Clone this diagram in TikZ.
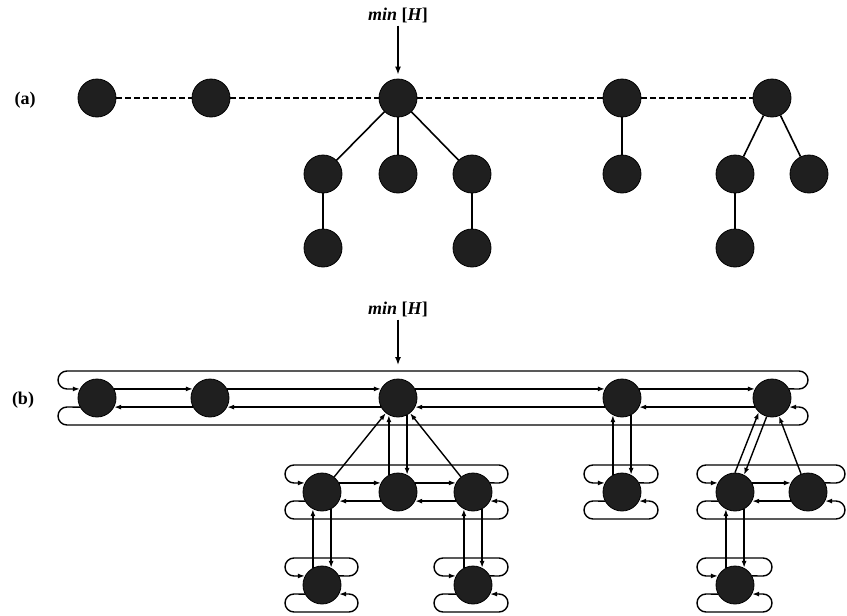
\documentclass[tikz,border=0pt]{standalone}
\usepackage{fontspec}
\setmainfont{Liberation Serif}
\usetikzlibrary{arrows.meta}
\newcommand\fhring[5]{% #1 first node, #2 last node, #3 left x, #4 right x, #5 row y
  \draw[ptr] (#2.28) -- (#4,#5-9) arc[start angle=-90,end angle=90,radius=9pt]
    -- (#3,#5-27) arc[start angle=90,end angle=270,radius=9pt] -- (#1.152);
  \draw[ptr] (#1.208) -- (#3,#5+9) arc[start angle=90,end angle=270,radius=9pt]
    -- (#4,#5+27) arc[start angle=-90,end angle=90,radius=9pt] -- (#2.332);
}
\newcommand\fhnext[2]{%
  \draw[ptr] (#1.28) -- (#2.152);
  \draw[ptr] (#2.208) -- (#1.332);
}
\newcommand\fhvert[2]{% #1 parent, #2 child (vertically below)
  \draw[ptr] (#2.118) -- (#1.242);
  \draw[ptr] (#1.298) -- (#2.62);
}
\begin{document}
\begin{tikzpicture}[x=1pt,y=-1pt,
  hn/.style={circle,draw=black,fill=black!88,line width=0.8pt,minimum size=38pt,inner sep=0pt},
  ptr/.style={line width=1.4pt,-{Latex[length=7pt,width=5pt]}},
  tree/.style={line width=1.6pt},
  rootlist/.style={line width=1.4pt,dash pattern=on 6pt off 3pt},
  lbl/.style={font=\fontsize{18}{21}\selectfont\bfseries,inner sep=1pt},
  pointer/.style={line width=1.4pt,-{Latex[length=8pt,width=6pt]}}]
\useasboundingbox (0,0) rectangle (847,616);

% ---------------- (a) ----------------
\node[lbl] (la) at (25,100) {(a)};
\node[hn] (a1) at (97,98) {};
\node[hn] (a2) at (211,98) {};
\node[hn] (a3) at (398,98) {};
\node[hn] (a4) at (622,98) {};
\node[hn] (a5) at (772,98) {};
\node[hn] (a31) at (323,174) {};
\node[hn] (a32) at (398,174) {};
\node[hn] (a33) at (472,174) {};
\node[hn] (a311) at (323,248) {};
\node[hn] (a331) at (472,248) {};
\node[hn] (a41) at (622,174) {};
\node[hn] (a51) at (735,174) {};
\node[hn] (a52) at (809,174) {};
\node[hn] (a511) at (735,248) {};

\draw[rootlist] (a1) -- (a2);
\draw[rootlist] (a2) -- (a3);
\draw[rootlist] (a3) -- (a4);
\draw[rootlist] (a4) -- (a5);
\draw[tree] (a3) -- (a31);
\draw[tree] (a3) -- (a32);
\draw[tree] (a3) -- (a33);
\draw[tree] (a31) -- (a311);
\draw[tree] (a33) -- (a331);
\draw[tree] (a4) -- (a41);
\draw[tree] (a5) -- (a51);
\draw[tree] (a5) -- (a52);
\draw[tree] (a51) -- (a511);

\node[lbl] (ma) at (398,15) {\textit{min} [\textit{H}]};
\draw[pointer,shorten <=2pt,shorten >=4pt] (ma) -- (a3);

% ---------------- (b) ----------------
\node[lbl] (lb) at (23,400) {(b)};
\node[hn] (b1) at (97,398) {};
\node[hn] (b2) at (210,398) {};
\node[hn] (b3) at (398,398) {};
\node[hn] (b4) at (622,398) {};
\node[hn] (b5) at (772,398) {};
\node[hn] (b31) at (322,492) {};
\node[hn] (b32) at (398,492) {};
\node[hn] (b33) at (473,492) {};
\node[hn] (b41) at (622,492) {};
\node[hn] (b51) at (735,492) {};
\node[hn] (b52) at (808,492) {};
\node[hn] (b311) at (322,585) {};
\node[hn] (b331) at (473,585) {};
\node[hn] (b511) at (735,585) {};

\node[lbl] (mb) at (398,309) {\textit{min} [\textit{H}]};
\coordinate (mbt) at (398,365);
\draw[pointer,shorten <=2pt] (mb) -- (mbt);

% root list
\fhnext{b1}{b2}
\fhnext{b2}{b3}
\fhnext{b3}{b4}
\fhnext{b4}{b5}
\fhring{b1}{b5}{67}{799}{398}

% children lists
\fhnext{b31}{b32}
\fhnext{b32}{b33}
\fhring{b31}{b33}{294}{499}{492}
\fhring{b41}{b41}{593}{649}{492}
\fhnext{b51}{b52}
\fhring{b51}{b52}{706}{836}{492}
\fhring{b311}{b311}{294}{349}{585}
\fhring{b331}{b331}{443}{499}{585}
\fhring{b511}{b511}{706}{763}{585}

% parent / child pointers
\draw[ptr] (b31) -- (b3);
\draw[ptr] (b33) -- (b3);
\fhvert{b3}{b32}
\fhvert{b31}{b311}
\fhvert{b33}{b331}
\fhvert{b4}{b41}
\fhvert{b51}{b511}
\draw[ptr] (b51.90) -- (b5.227);
\draw[ptr] (b5.254) -- (b51.62);
\draw[ptr] (b52) -- (b5);
\end{tikzpicture}
\end{document}
